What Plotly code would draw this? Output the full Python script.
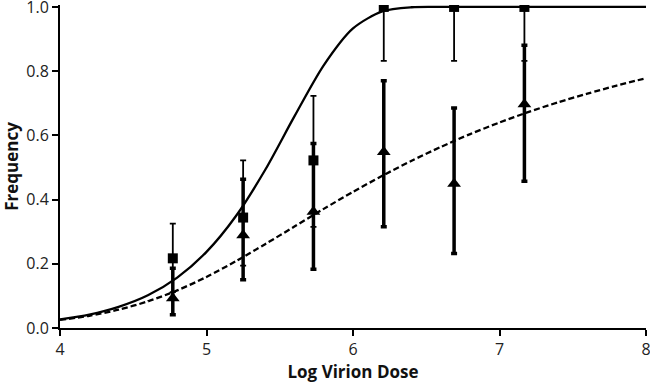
import plotly.graph_objects as go

# Observed doses (log10 virions)
dose = [4.77, 5.25, 5.73, 6.21, 6.69, 7.17]

# Square series (solid-curve group)
sq_freq = [0.217, 0.344, 0.522, 1.0, 1.0, 1.0]
sq_err_plus = [0.108, 0.178, 0.201, 0.0, 0.0, 0.0]
sq_err_minus = [0.105, 0.150, 0.207, 0.168, 0.168, 0.168]

# Triangle series (dashed-curve group)
tri_freq = [0.093, 0.289, 0.362, 0.548, 0.449, 0.697]
tri_err_plus = [0.093, 0.174, 0.213, 0.222, 0.236, 0.184]
tri_err_minus = [0.052, 0.139, 0.179, 0.233, 0.217, 0.240]

# Fitted curves
curve_x = [4.0, 4.2, 4.4, 4.6, 4.8, 5.0, 5.2, 5.4, 5.6, 5.8, 6.0,
           6.2, 6.4, 6.6, 6.8, 7.0, 7.2, 7.4, 7.6, 7.8, 8.0]
solid_y = [0.027, 0.042, 0.066, 0.102, 0.157, 0.237, 0.348, 0.492, 0.659, 0.818, 0.933,
           0.986, 0.999, 1.0, 1.0, 1.0, 1.0, 1.0, 1.0, 1.0, 1.0]
dashed_y = [0.025, 0.038, 0.057, 0.083, 0.117, 0.159, 0.208, 0.261, 0.316, 0.371, 0.424,
            0.474, 0.521, 0.564, 0.604, 0.640, 0.673, 0.703, 0.730, 0.755, 0.778]

x_ticks = [4, 5, 6, 7, 8]
y_ticks = [0.0, 0.2, 0.4, 0.6, 0.8, 1.0]

fig = go.Figure()
fig.add_trace(go.Scatter(x=curve_x, y=solid_y, mode="lines",
                         line=dict(color="black", width=2.3, shape="spline", smoothing=0.8),
                         showlegend=False, hoverinfo="skip"))
fig.add_trace(go.Scatter(x=curve_x, y=dashed_y, mode="lines",
                         line=dict(color="black", width=2.3, dash="6px,3px", shape="spline", smoothing=0.8),
                         showlegend=False, hoverinfo="skip"))
fig.add_trace(go.Scatter(x=dose, y=sq_freq, mode="markers",
                         marker=dict(symbol="square", size=10, color="black"),
                         error_y=dict(type="data", array=sq_err_plus, arrayminus=sq_err_minus,
                                      color="black", thickness=1.8, width=3),
                         showlegend=False))
fig.add_trace(go.Scatter(x=dose, y=tri_freq, mode="markers",
                         marker=dict(symbol="triangle-up", size=12, color="black"),
                         error_y=dict(type="data", array=tri_err_plus, arrayminus=tri_err_minus,
                                      color="black", thickness=3.5, width=3),
                         showlegend=False))

axis_font = dict(family="Open Sans, Lato, sans-serif", size=16, color="#222222")
fig.update_layout(
    width=650, height=383,
    margin=dict(l=60, r=4, t=5, b=55, autoexpand=False),
    paper_bgcolor="white", plot_bgcolor="white",
    font=axis_font,
    xaxis=dict(range=[4, 8], tickvals=x_ticks, ticktext=[str(t) for t in x_ticks],
               showgrid=False, zeroline=False, showline=True, linecolor="black", linewidth=2,
               ticks="outside", ticklen=6, tickwidth=1.5, tickcolor="black",
               tickfont=dict(size=16), automargin=False, ticklabeloverflow="allow",
               title=dict(text="<b>Log Virion Dose</b>", font=dict(size=17, color="#111111"), standoff=6)),
    yaxis=dict(range=[0, 1.006], tickvals=y_ticks, ticktext=[f"{t:.1f}" for t in y_ticks],
               showgrid=False, zeroline=False, showline=True, linecolor="black", linewidth=2,
               ticks="outside", ticklen=6, tickwidth=1.5, tickcolor="black",
               tickfont=dict(size=16), automargin=False, ticklabeloverflow="allow",
               title=dict(text="<b>Frequency</b>", font=dict(size=17, color="#111111"), standoff=6)),
)

fig.write_html("out.html", config={"displayModeBar": False},
               post_script="document.body.style.margin='0';document.body.style.overflow='hidden';")
